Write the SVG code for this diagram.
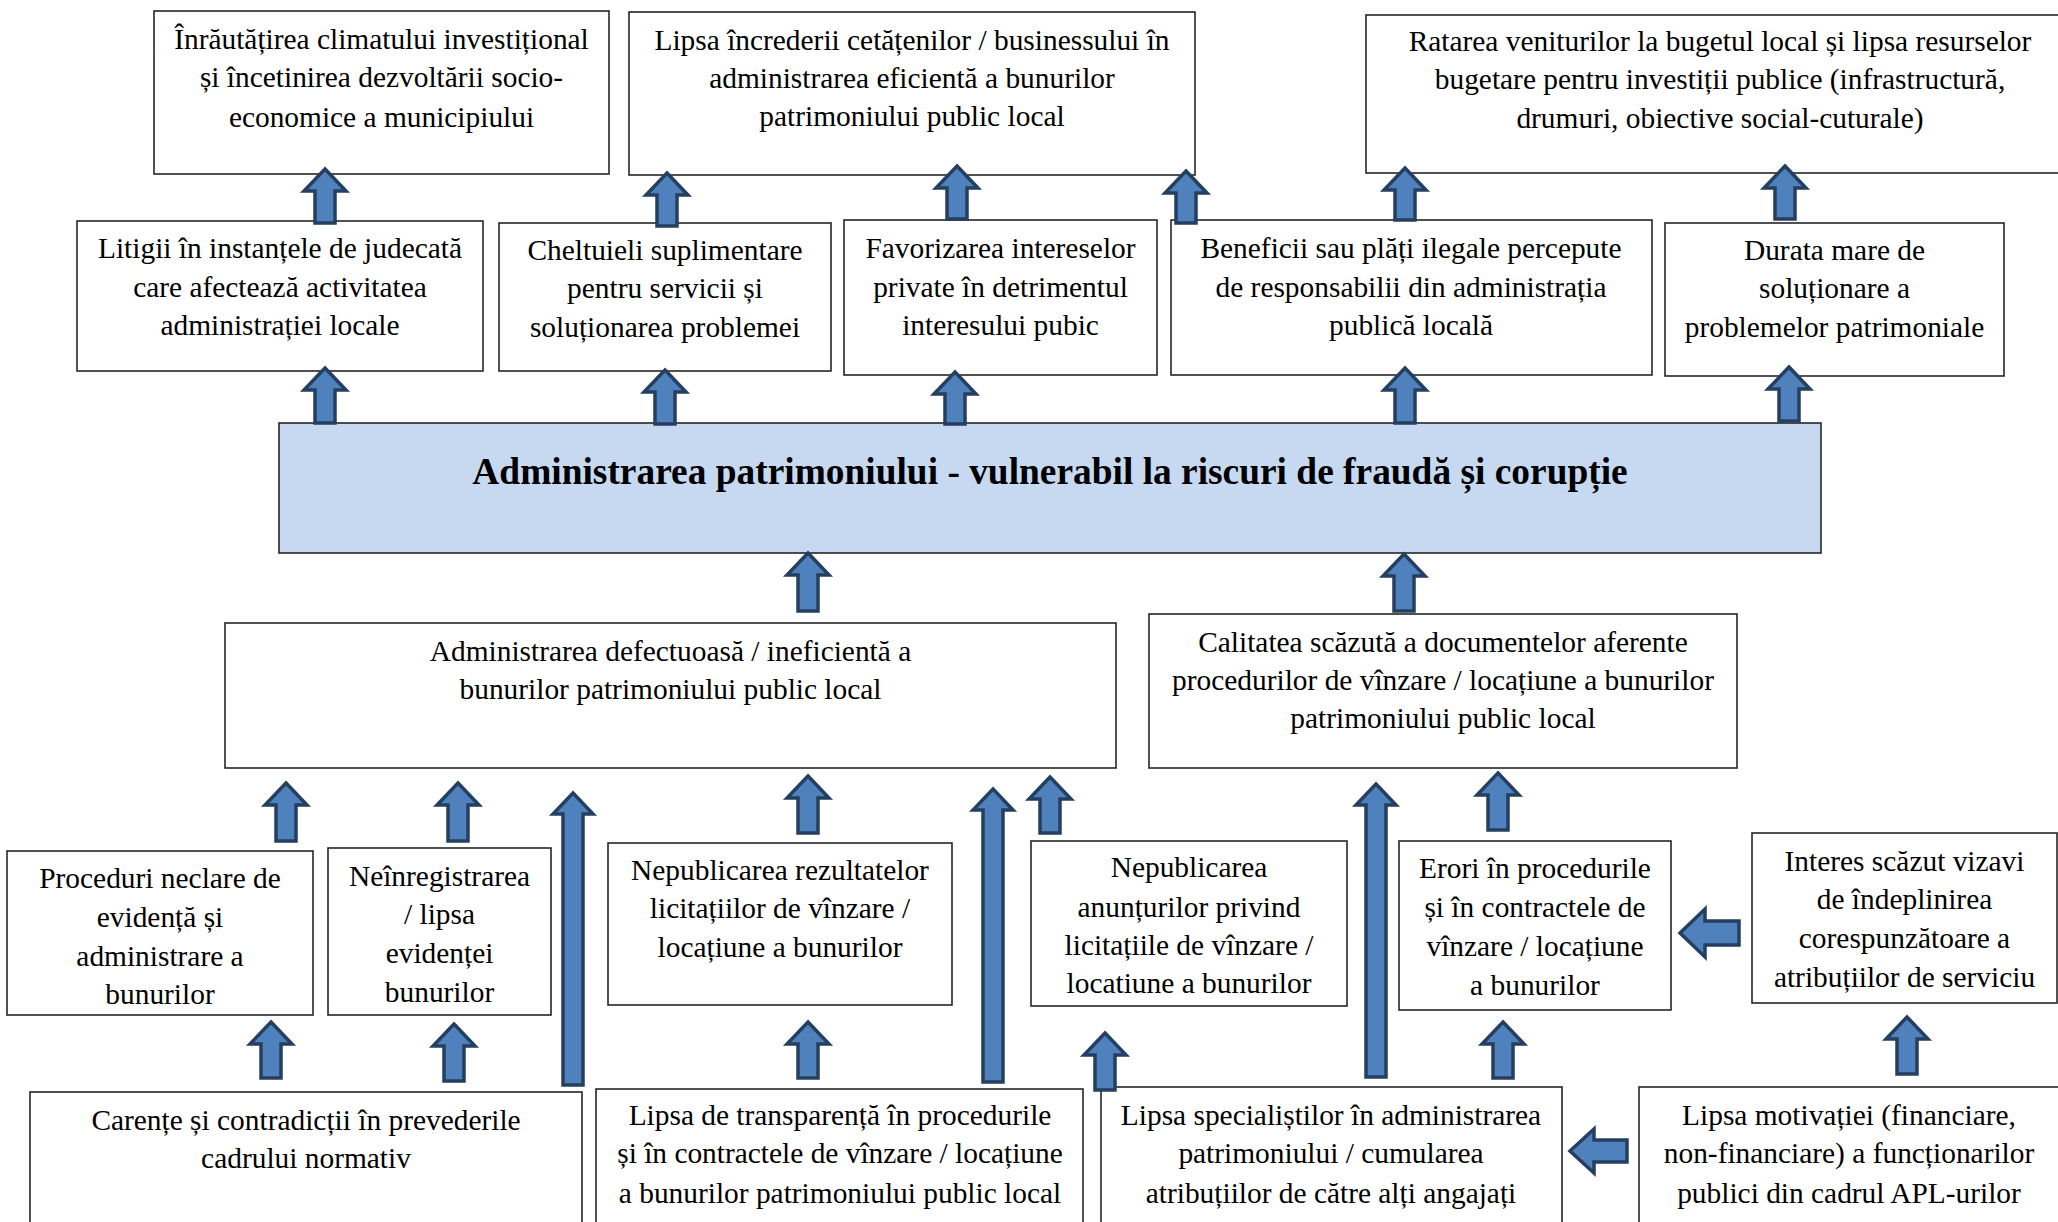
<svg xmlns="http://www.w3.org/2000/svg" width="2058" height="1222" viewBox="0 0 2058 1222">
<style>
.box{fill:#ffffff;stroke:#262626;stroke-width:1.6}
.main{fill:#c6d9f0;stroke:#262626;stroke-width:1.6}
text{font-family:"Liberation Serif","Times New Roman",serif;font-size:29.4px;fill:#000;text-anchor:middle}
.title{font-size:37.4px;font-weight:bold}
.arr{fill:#4f81bd;stroke:#243f60;stroke-width:3.5;stroke-linejoin:miter}
</style>
<rect width="2058" height="1222" fill="#ffffff"/>
<g id="nodes">
<g id="n-inrautatirea"><rect class="box" x="154" y="11" width="455" height="163"/>
<text x="381.5" y="49">Înrăutățirea climatului investițional</text><text x="381.5" y="87">și încetinirea dezvoltării socio-</text><text x="381.5" y="127">economice a municipiului</text></g>
<g id="n-lipsa-increderii"><rect class="box" x="629" y="12" width="566" height="163"/>
<text x="912" y="50">Lipsa încrederii cetățenilor / businessului în</text><text x="912" y="88">administrarea eficientă a bunurilor</text><text x="912" y="126">patrimoniului public local</text></g>
<g id="n-ratarea"><rect class="box" x="1366" y="15" width="708" height="158"/>
<text x="1720" y="51">Ratarea veniturilor la bugetul local și lipsa resurselor</text><text x="1720" y="89">bugetare pentru investiții publice (infrastructură,</text><text x="1720" y="128">drumuri, obiective social-cuturale)</text></g>
<g id="n-litigii"><rect class="box" x="77" y="221" width="406" height="150"/>
<text x="280" y="258">Litigii în instanțele de judecată</text><text x="280" y="297">care afectează activitatea</text><text x="280" y="335">administrației locale</text></g>
<g id="n-cheltuieli"><rect class="box" x="499" y="223" width="332" height="148"/>
<text x="665" y="260">Cheltuieli suplimentare</text><text x="665" y="298">pentru servicii și</text><text x="665" y="337">soluționarea problemei</text></g>
<g id="n-favorizarea"><rect class="box" x="844" y="220" width="313" height="155"/>
<text x="1000.5" y="258">Favorizarea intereselor</text><text x="1000.5" y="297">private în detrimentul</text><text x="1000.5" y="335">interesului pubic</text></g>
<g id="n-beneficii"><rect class="box" x="1171" y="220" width="481" height="155"/>
<text x="1411" y="258">Beneficii sau plăți ilegale percepute</text><text x="1411" y="297">de responsabilii din administrația</text><text x="1411" y="335">publică locală</text></g>
<g id="n-durata"><rect class="box" x="1665" y="223" width="339" height="153"/>
<text x="1834.5" y="260">Durata mare de</text><text x="1834.5" y="298">soluționare a</text><text x="1834.5" y="337">problemelor patrimoniale</text></g>
<g id="n-main"><rect class="main" x="279" y="423" width="1542" height="130"/>
<text class="title" x="1050" y="484">Administrarea patrimoniului - vulnerabil la riscuri de fraudă și corupție</text></g>
<g id="n-administrarea-defectuoasa"><rect class="box" x="225" y="623" width="891" height="145"/>
<text x="670.5" y="661">Administrarea defectuoasă / ineficientă a</text><text x="670.5" y="699">bunurilor patrimoniului public local</text></g>
<g id="n-calitatea"><rect class="box" x="1149" y="614" width="588" height="154"/>
<text x="1443" y="652">Calitatea scăzută a documentelor aferente</text><text x="1443" y="690">procedurilor de vînzare / locațiune a bunurilor</text><text x="1443" y="728">patrimoniului public local</text></g>
<g id="n-proceduri"><rect class="box" x="7" y="851" width="306" height="164"/>
<text x="160" y="888">Proceduri neclare de</text><text x="160" y="927">evidență și</text><text x="160" y="966">administrare a</text><text x="160" y="1004">bunurilor</text></g>
<g id="n-neinregistrarea"><rect class="box" x="328" y="848" width="223" height="167"/>
<text x="439.5" y="886">Neînregistrarea</text><text x="439.5" y="924">/ lipsa</text><text x="439.5" y="963">evidenței</text><text x="439.5" y="1002">bunurilor</text></g>
<g id="n-nepublicarea-rezultatelor"><rect class="box" x="608" y="843" width="344" height="162"/>
<text x="780" y="880">Nepublicarea rezultatelor</text><text x="780" y="918">licitațiilor de vînzare /</text><text x="780" y="957">locațiune a bunurilor</text></g>
<g id="n-nepublicarea-anunturilor"><rect class="box" x="1031" y="841" width="316" height="165"/>
<text x="1189" y="877">Nepublicarea</text><text x="1189" y="917">anunțurilor privind</text><text x="1189" y="955">licitațiile de vînzare /</text><text x="1189" y="993">locatiune a bunurilor</text></g>
<g id="n-erori"><rect class="box" x="1399" y="841" width="272" height="169"/>
<text x="1535" y="878">Erori în procedurile</text><text x="1535" y="917">și în contractele de</text><text x="1535" y="956">vînzare / locațiune</text><text x="1535" y="995">a bunurilor</text></g>
<g id="n-interes"><rect class="box" x="1752" y="833" width="305" height="170"/>
<text x="1904.5" y="871">Interes scăzut vizavi</text><text x="1904.5" y="909">de îndeplinirea</text><text x="1904.5" y="948">corespunzătoare a</text><text x="1904.5" y="987">atribuțiilor de serviciu</text></g>
<g id="n-carente"><rect class="box" x="30" y="1092" width="552" height="150"/>
<text x="306" y="1130">Carențe și contradicții în prevederile</text><text x="306" y="1168">cadrului normativ</text></g>
<g id="n-lipsa-transparenta"><rect class="box" x="596" y="1089" width="487" height="150"/>
<text x="840" y="1125">Lipsa de transparență în procedurile</text><text x="840" y="1163">și în contractele de vînzare / locațiune</text><text x="840" y="1203">a bunurilor patrimoniului public local</text></g>
<g id="n-lipsa-specialistilor"><rect class="box" x="1101" y="1087" width="461" height="150"/>
<text x="1331" y="1125">Lipsa specialiștilor în administrarea</text><text x="1331" y="1163">patrimoniului / cumularea</text><text x="1331" y="1203">atribuțiilor de către alți angajați</text></g>
<g id="n-lipsa-motivatiei"><rect class="box" x="1639" y="1087" width="431" height="150"/>
<text x="1849" y="1125">Lipsa motivației (financiare,</text><text x="1849" y="1163">non-financiare) a funcționarilor</text><text x="1849" y="1203">publici din cadrul APL-urilor</text></g>
</g>
<g id="connectors">
<polygon class="arr" points="325,169 346,191 335,191 335,223 315,223 315,191 304,191"/>
<polygon class="arr" points="667,173 688,195 677,195 677,226 657,226 657,195 646,195"/>
<polygon class="arr" points="957,166 978,188 967,188 967,219 947,219 947,188 936,188"/>
<polygon class="arr" points="1186,171 1207,193 1196,193 1196,223 1176,223 1176,193 1165,193"/>
<polygon class="arr" points="1405,168 1426,190 1415,190 1415,220 1395,220 1395,190 1384,190"/>
<polygon class="arr" points="1785,166 1806,188 1795,188 1795,219 1775,219 1775,188 1764,188"/>
<polygon class="arr" points="325,368 346,390 335,390 335,423 315,423 315,390 304,390"/>
<polygon class="arr" points="665,370 686,392 675,392 675,424 655,424 655,392 644,392"/>
<polygon class="arr" points="955,372 976,394 965,394 965,424 945,424 945,394 934,394"/>
<polygon class="arr" points="1405,368 1426,390 1415,390 1415,423 1395,423 1395,390 1384,390"/>
<polygon class="arr" points="1789,367 1810,389 1799,389 1799,421 1779,421 1779,389 1768,389"/>
<polygon class="arr" points="808,553 829,575 818,575 818,611 798,611 798,575 787,575"/>
<polygon class="arr" points="1404,554 1425,576 1414,576 1414,611 1394,611 1394,576 1383,576"/>
<polygon class="arr" points="286,783 307,805 296,805 296,841 276,841 276,805 265,805"/>
<polygon class="arr" points="458,783 479,805 468,805 468,841 448,841 448,805 437,805"/>
<polygon class="arr" points="573,793 593,814 583,814 583,1085 563,1085 563,814 553,814"/>
<polygon class="arr" points="808,776 829,798 818,798 818,833 798,833 798,798 787,798"/>
<polygon class="arr" points="993,789 1013,810 1003,810 1003,1082 983,1082 983,810 973,810"/>
<polygon class="arr" points="1050,777 1071,799 1060,799 1060,833 1040,833 1040,799 1029,799"/>
<polygon class="arr" points="1376,784 1396,805 1386,805 1386,1077 1366,1077 1366,805 1356,805"/>
<polygon class="arr" points="1498,773 1519,795 1508,795 1508,830 1488,830 1488,795 1477,795"/>
<polygon class="arr" points="271,1022 292,1044 281,1044 281,1078 261,1078 261,1044 250,1044"/>
<polygon class="arr" points="454,1024 475,1046 464,1046 464,1081 444,1081 444,1046 433,1046"/>
<polygon class="arr" points="808,1022 829,1044 818,1044 818,1078 798,1078 798,1044 787,1044"/>
<polygon class="arr" points="1105,1033 1126,1055 1115,1055 1115,1090 1095,1090 1095,1055 1084,1055"/>
<polygon class="arr" points="1503,1022 1524,1044 1513,1044 1513,1078 1493,1078 1493,1044 1482,1044"/>
<polygon class="arr" points="1907,1017 1928,1039 1917,1039 1917,1074 1897,1074 1897,1039 1886,1039"/>
<polygon class="arr" points="1680,933 1705,909 1705,921 1739,921 1739,945 1705,945 1705,957"/>
<polygon class="arr" points="1570,1151 1594,1129 1594,1140 1627,1140 1627,1162 1594,1162 1594,1173"/>
</g>
</svg>
